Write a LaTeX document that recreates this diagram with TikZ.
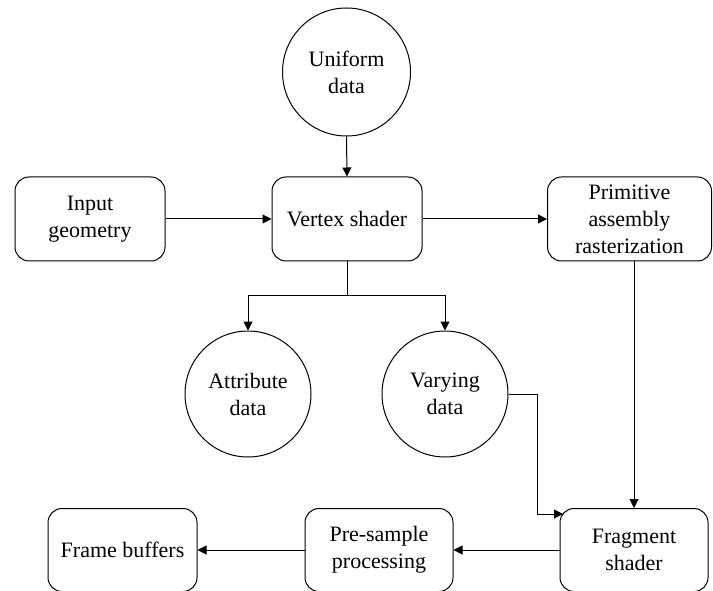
\documentclass[tikz,border=0pt]{standalone}
\usepackage{fontspec}
\setmainfont{Liberation Serif}
\usetikzlibrary{arrows.meta}
\begin{document}
\begin{tikzpicture}[x=1pt,y=-1pt,
  every node/.style={font=\fontsize{22}{27}\selectfont, align=center, inner sep=0pt},
  procbox/.style={draw, line width=1pt, rounded corners=14pt, minimum height=84pt},
  datacirc/.style={draw, circle, line width=1pt},
  conn/.style={line width=1pt, -{Triangle[length=9pt,width=9pt]}}]
\useasboundingbox (0,0) rectangle (713,591);
\node[datacirc, minimum size=128pt] (uniform) at (346.5,72) {Uniform\\data};
\node[procbox, minimum width=150pt] (input) at (90,219) {Input\\geometry};
\node[procbox, minimum width=150pt] (vertex) at (347,219) {Vertex shader};
\node[procbox, minimum width=164pt] (primitive) at (629.5,219) {Primitive\\assembly\\rasterization};
\node[datacirc, minimum size=126pt] (attribute) at (248,394) {Attribute\\data};
\node[datacirc, minimum size=126pt] (varying) at (445,394) {Varying\\data};
\node[procbox, minimum width=149pt, minimum height=83pt] (frame) at (122.5,550) {Frame buffers};
\node[procbox, minimum width=148pt, minimum height=83pt] (presample) at (379,550) {Pre-sample\\processing};
\node[procbox, minimum width=148pt, minimum height=83pt] (fragment) at (634,550) {Fragment\\shader};
\coordinate (split) at ([yshift=-34pt]vertex.south);
\coordinate (vbend) at (537,394);
\coordinate (fin) at (563,514);
\draw[conn] (uniform.south) -- (vertex.north);
\draw[conn] (input.east) -- (vertex.west);
\draw[conn] (vertex.east) -- (primitive.west);
\draw[line width=1pt] (vertex.south) -- (split);
\draw[conn] (split) -| (attribute.north);
\draw[conn] (split) -| (varying.north);
\draw[conn] (fragment.north |- primitive.south) -- (fragment.north);
\draw[conn] (varying.east) -- (vbend) |- (fin);
\draw[conn] (fragment.west) -- (presample.east);
\draw[conn] (presample.west) -- (frame.east);
\end{tikzpicture}
\end{document}
